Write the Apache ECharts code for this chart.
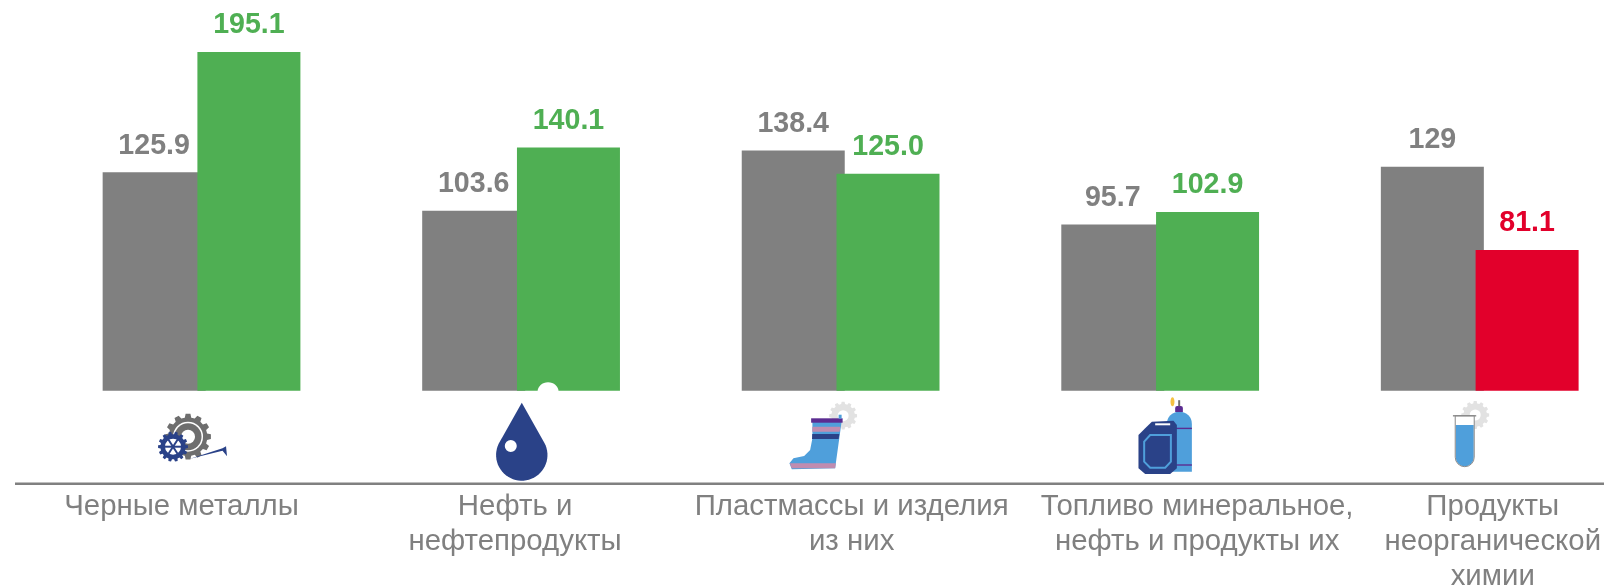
<!DOCTYPE html>
<html>
<head>
<meta charset="utf-8">
<style>
  html, body { margin: 0; padding: 0; background: #fff; }
  #chart { width: 1604px; height: 587px; }
</style>
<script src="https://cdn.jsdelivr.net/npm/echarts@6/dist/echarts.min.js"></script>
</head>
<body>
<div id="chart"></div>
<script>
const categories = [
  'Черные металлы',
  'Нефть и\nнефтепродукты',
  'Пластмассы и изделия\nиз них',
  'Топливо минеральное,\nнефть и продукты их',
  'Продукты\nнеорганической\nхимии'
];
const previousValues = [125.9, 103.6, 138.4, 95.7, 129];
const currentValues = [195.1, 140.1, 125.0, 102.9, 81.1];

const GREY = '#808080';
const GREEN = '#4FAF53';
const RED = '#E2002B';
const NAVY = '#2A4288';
const BLUE = '#4F9FDB';
const PURPLE = '#5B2C91';
const PINK = '#C08CB0';
const LIGHT_GEAR = '#E2E2E2';

// the labels in the reference are not centred under their bars
const labelShift = [-20, -6, 11, 37, 13];

function axisItem(name, i) {
  const s = labelShift[i];
  return {
    value: name,
    textStyle: { padding: s > 0 ? [0, 0, 0, s * 2] : [0, -s * 2, 0, 0] }
  };
}

function gear(cx, cy, r, teeth, color) {
  const points = [];
  const step = (Math.PI * 2) / teeth;
  for (let i = 0; i < teeth; i++) {
    const a = i * step;
    [[-0.32, 0.84], [-0.2, 1], [0.2, 1], [0.32, 0.84]].forEach(([k, m]) => {
      points.push([cx + Math.cos(a + k * step) * r * m, cy + Math.sin(a + k * step) * r * m]);
    });
  }
  return { type: 'polygon', shape: { points }, style: { fill: color } };
}

function circle(cx, cy, r, style) {
  return { type: 'circle', shape: { cx, cy, r }, style };
}

function rect(x, y, width, height, fill, r) {
  return { type: 'rect', shape: { x, y, width, height, r: r || 0 }, style: { fill } };
}

function poly(points, style) {
  return { type: 'polygon', shape: { points }, style };
}

function dropOutline() {
  const points = [[0.7, 12]];
  for (let a = -28; a <= 208; a += 6) {
    const t = (a * Math.PI) / 180;
    points.push([0.7 + Math.cos(t) * 25.7, 64.3 + Math.sin(t) * 25.7]);
  }
  return points;
}

// icons are drawn around the category centre on the bar baseline
const iconParts = [
  () => [
    gear(-13.5, 46, 23, 12, '#6E6E6E'),
    circle(-13.5, 46, 15, { fill: '#fff' }),
    circle(-13.5, 46, 13.5, { fill: '#6E6E6E' }),
    circle(-13.5, 46, 7, { fill: '#fff' }),
    poly([[-11.5, 68], [21, 57.5], [24.5, 55.5], [25.5, 65.5], [21, 60]], { fill: NAVY }),
    gear(-28.5, 56, 15, 14, NAVY),
    circle(-28.5, 56, 9, { fill: '#fff' }),
    { type: 'ring', shape: { cx: -28.5, cy: 56, r: 10, r0: 8 }, style: { fill: NAVY } },
    { type: 'line', shape: { x1: -37, y1: 56, x2: -20, y2: 56 }, style: { stroke: NAVY, lineWidth: 2 } },
    { type: 'line', shape: { x1: -33, y1: 49, x2: -24, y2: 63 }, style: { stroke: NAVY, lineWidth: 2 } },
    { type: 'line', shape: { x1: -24, y1: 49, x2: -33, y2: 63 }, style: { stroke: NAVY, lineWidth: 2 } }
  ],
  () => [
    { type: 'ellipse', shape: { cx: 27, cy: 1, rx: 10.5, ry: 9.5 }, style: { fill: '#fff' } },
    poly(dropOutline(), { fill: NAVY }),
    circle(-10.3, 55.3, 6, { fill: '#fff' })
  ],
  () => [
    gear(2.5, 25, 14, 12, LIGHT_GEAR),
    circle(2.5, 25, 5.5, { fill: '#fff' }),
    poly([[-28.2, 29.3], [1.2, 29.3], [-5.5, 77.6], [-48.8, 78.6], [-51.2, 72.6], [-47.2, 67.6],
      [-36.5, 65.3], [-30.5, 59.3], [-28.2, 47.6]], { fill: BLUE }),
    rect(-29.5, 27.6, 31.5, 4.4, PURPLE),
    rect(-2, 24, 3, 4, BLUE),
    poly([[-28.2, 36], [-0.3, 36], [-1, 41], [-28.4, 41]], { fill: PINK }),
    poly([[-28.4, 43.3], [-1.3, 43.3], [-2, 48.3], [-28.6, 48.3]], { fill: NAVY }),
    poly([[-50.8, 72.6], [-4.8, 72.6], [-5.5, 77.6], [-49, 77.6]], { fill: PINK })
  ],
  () => [
    rect(6.7, 21, 25, 60, BLUE, [12, 12, 0, 0]),
    rect(6.7, 37, 25, 1.4, PURPLE),
    rect(6.7, 73.6, 25, 1.4, PURPLE),
    rect(15, 15.3, 7.7, 6, PURPLE, [2, 2, 0, 0]),
    rect(18, 9.5, 2, 6, '#6E6E6E'),
    { type: 'ellipse', shape: { cx: 12.3, cy: 11, rx: 2, ry: 4.5 }, style: { fill: '#F5C242' } },
    poly([[-21.7, 44.3], [-15, 37.6], [-8.3, 31], [13.3, 30], [16.7, 34.3], [16.7, 77.6], [10, 83.3],
      [-15, 83.3], [-21.7, 77.6]], { fill: NAVY }),
    poly([[-16, 51], [-10, 44.3], [10.7, 44.3], [10.7, 71], [5, 77], [-10, 77], [-16, 71]],
      { fill: NAVY, stroke: BLUE, lineWidth: 2 }),
    rect(-5, 32.6, 15, 2, '#fff')
  ],
  () => [
    gear(-4.5, 24.3, 14, 12, LIGHT_GEAR),
    circle(-4.5, 24.3, 5.5, { fill: '#fff' }),
    rect(-24.5, 25, 19, 51, '#fff', [0, 0, 9.5, 9.5]),
    rect(-24, 34.3, 18, 41.5, BLUE, [0, 0, 9, 9]),
    { type: 'rect', shape: { x: -24.5, y: 25, width: 19, height: 51, r: [0, 0, 9.5, 9.5] },
      style: { fill: 'none', stroke: '#8A8A8A', lineWidth: 1 } },
    rect(-26.8, 24.4, 23.3, 1.4, '#8A8A8A')
  ]
];

const chart = echarts.init(document.getElementById('chart'));

chart.setOption({
  animation: false,
  grid: { left: 41.75, right: -35.5, top: 43.5, bottom: 196.3, outerBoundsMode: 'none' },
  xAxis: {
    type: 'category',
    data: categories.map(axisItem),
    axisLine: { show: false },
    axisTick: { show: false },
    axisLabel: {
      interval: 0,
      margin: 99,
      color: GREY,
      fontFamily: 'Liberation Sans',
      fontSize: 29.4,
      lineHeight: 35
    }
  },
  yAxis: { type: 'value', min: 0, max: 200, show: false },
  graphic: [{
    type: 'line',
    shape: { x1: 15, y1: 483.7, x2: 1604, y2: 483.7 },
    style: { stroke: GREY, lineWidth: 2.6 }
  }],
  series: [
    {
      type: 'bar',
      name: 'previous',
      data: previousValues,
      barWidth: 103,
      barGap: '-8%',
      itemStyle: { color: GREY },
      label: {
        show: true,
        position: 'top',
        distance: 12,
        color: GREY,
        fontFamily: 'Liberation Sans',
        fontWeight: 'bold',
        fontSize: 28.6
      }
    },
    {
      type: 'bar',
      name: 'current',
      barWidth: 103,
      data: currentValues.map(v => {
        const color = v < 100 ? RED : GREEN;
        return { value: v, itemStyle: { color }, label: { color } };
      }),
      label: {
        show: true,
        position: 'top',
        distance: 12,
        fontFamily: 'Liberation Sans',
        fontWeight: 'bold',
        fontSize: 28.6,
        formatter: p => p.value.toFixed(1)
      }
    },
    {
      type: 'custom',
      name: 'icons',
      silent: true,
      z: 5,
      data: categories.map((c, i) => [i, 0]),
      encode: { x: 0, y: 1 },
      renderItem: (params, api) => {
        const pos = api.coord([api.value(0), 0]);
        return {
          type: 'group',
          x: pos[0],
          y: pos[1],
          children: iconParts[params.dataIndex]()
        };
      }
    }
  ]
});
</script>
</body>
</html>
